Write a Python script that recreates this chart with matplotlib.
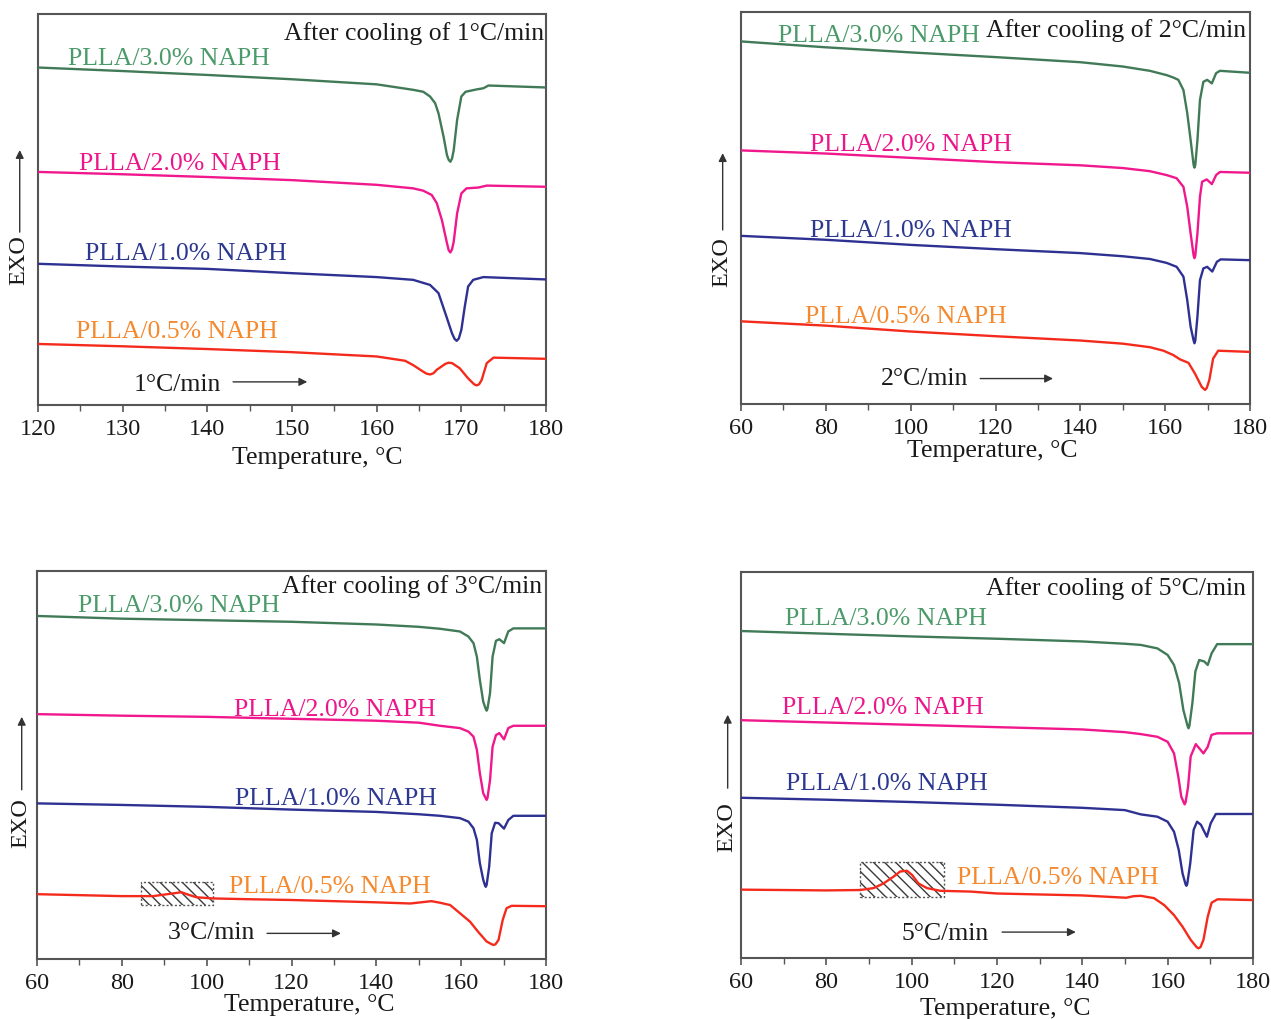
import matplotlib
matplotlib.use("Agg")
import matplotlib.pyplot as plt
from matplotlib.patches import Rectangle

plt.rcParams['font.family'] = ['Liberation Serif', 'DejaVu Serif']
plt.rcParams['hatch.linewidth'] = 1.0

# ---------------- data (signal in arbitrary units, 0-100 of panel height) ----------------
series_names = ["PLLA/3.0% NAPH", "PLLA/2.0% NAPH", "PLLA/1.0% NAPH", "PLLA/0.5% NAPH"]
rates = ["1°C/min", "2°C/min", "3°C/min", "5°C/min"]
xlims = [(120, 180), (60, 180), (60, 180), (60, 180)]
xticks = [[120, 130, 140, 150, 160, 170, 180],
          [60, 80, 100, 120, 140, 160, 180],
          [60, 80, 100, 120, 140, 160, 180],
          [60, 80, 100, 120, 140, 160, 180]]

# Panel 1: 1 °C/min
p1_green_T = [120, 130, 140, 150, 160, 164.3, 165.5, 166.3, 166.9, 167.3, 167.9, 168.3, 168.5, 168.7, 168.9, 169.1, 169.5, 170.0, 170.5, 171.8, 172.6, 173.2, 180]
p1_green_v = [86.3, 85.4, 84.4, 83.3, 82.0, 80.6, 80.1, 78.9, 77.2, 74.6, 68.6, 63.9, 62.7, 62.2, 63.0, 65.2, 72.9, 78.9, 80.1, 80.7, 81.0, 81.7, 81.2]
p1_pink_T = [120, 130, 140, 150, 160, 164.3, 165.5, 166.5, 167.1, 167.7, 168.3, 168.5, 168.7, 168.9, 169.1, 169.5, 170.0, 170.6, 172.0, 173.0, 180]
p1_pink_v = [59.6, 59.0, 58.3, 57.5, 56.3, 55.4, 54.8, 53.7, 51.6, 47.3, 41.4, 39.6, 39.0, 39.8, 41.8, 49.0, 54.1, 55.4, 55.6, 56.1, 55.8]
p1_blue_T = [120, 130, 140, 150, 160, 164.3, 166.3, 167.3, 168.1, 168.9, 169.2, 169.45, 169.7, 170.0, 170.4, 170.8, 171.4, 172.6, 180]
p1_blue_v = [36.1, 35.4, 34.8, 33.7, 32.7, 32.0, 30.7, 28.6, 23.5, 18.3, 16.9, 16.4, 17.0, 19.2, 25.1, 30.3, 32.0, 32.7, 32.1]
p1_red_T = [120, 130, 140, 150, 160, 163.35, 164.3, 165.5, 165.9, 166.3, 166.7, 167.1, 168.1, 168.5, 168.9, 169.8, 170.8, 171.5, 171.8, 172.1, 172.4, 173.0, 173.8, 180]
p1_red_v = [15.6, 15.0, 14.3, 13.5, 12.4, 11.3, 10.2, 8.5, 8.0, 7.8, 8.1, 9.0, 10.5, 10.8, 10.7, 9.4, 6.8, 5.3, 5.0, 5.3, 6.4, 10.7, 12.1, 11.8]

# Panel 2: 2 °C/min
p2_green_T = [60, 80, 100, 120, 140, 150, 156.4, 160.35, 161.9, 163.1, 164.3, 165.2, 166.0, 166.7, 166.9, 167.1, 167.6, 168.2, 169.0, 169.9, 171.0, 172.0, 172.9, 180]
p2_green_v = [92.5, 91.0, 89.7, 88.5, 87.2, 86.1, 85.0, 83.9, 83.3, 82.7, 80.1, 74.2, 67.3, 61.0, 60.3, 61.0, 67.3, 77.6, 82.2, 82.7, 81.8, 84.4, 85.0, 84.5]
p2_pink_T = [60, 80, 100, 120, 140, 150, 156.4, 160.35, 162.7, 164.3, 165.2, 166.0, 166.7, 166.9, 167.1, 167.6, 168.2, 168.7, 169.8, 171.0, 172.0, 172.9, 180]
p2_pink_v = [64.7, 63.9, 62.8, 61.7, 60.9, 60.2, 59.4, 58.4, 57.6, 55.4, 50.3, 43.5, 37.9, 37.2, 37.9, 43.5, 52.9, 56.7, 57.3, 56.1, 58.4, 59.2, 59.0]
p2_blue_T = [60, 80, 100, 120, 140, 150, 156.4, 160.35, 162.7, 164.3, 165.2, 166.0, 166.7, 166.9, 167.1, 167.6, 168.2, 169.0, 169.9, 171.1, 172.2, 173.1, 180]
p2_blue_v = [42.9, 41.9, 40.6, 39.5, 38.5, 37.7, 37.0, 36.0, 35.0, 32.5, 26.5, 19.7, 16.2, 15.5, 16.2, 22.3, 31.6, 34.6, 35.0, 33.8, 36.3, 36.9, 36.7]
p2_red_T = [60, 80, 100, 120, 140, 150, 156.4, 159.6, 161.9, 163.5, 165.5, 167.0, 168.6, 169.1, 169.4, 169.8, 170.4, 171.3, 172.5, 180]
p2_red_v = [21.1, 20.0, 18.5, 17.3, 16.2, 15.4, 14.5, 13.6, 12.5, 11.4, 10.5, 7.8, 4.4, 3.9, 3.6, 4.1, 6.1, 11.6, 13.6, 13.3]

# Panel 3: 3 °C/min
p3_green_T = [60, 80, 100, 120, 140, 150, 155.0, 159.7, 161.7, 162.9, 163.7, 164.4, 165.2, 165.8, 166.0, 166.2, 166.8, 167.4, 168.2, 169.0, 170.1, 171.1, 172.3, 180]
p3_green_v = [88.4, 87.7, 87.3, 86.9, 86.2, 85.6, 85.1, 84.4, 83.1, 81.4, 77.9, 71.9, 66.3, 64.4, 64.0, 64.5, 68.5, 77.9, 82.0, 82.4, 81.4, 84.4, 85.2, 85.2]
p3_pink_T = [60, 80, 100, 120, 140, 150, 155.0, 159.7, 161.7, 162.9, 163.7, 164.4, 165.2, 165.8, 166.0, 166.2, 166.8, 167.4, 168.2, 169.0, 170.1, 171.1, 172.3, 180]
p3_pink_v = [63.1, 62.7, 62.4, 61.9, 61.4, 60.9, 60.1, 59.5, 58.6, 57.3, 53.9, 47.9, 42.7, 41.4, 41.0, 41.5, 46.1, 54.7, 57.7, 58.2, 56.6, 59.5, 60.1, 60.1]
p3_blue_T = [60, 80, 100, 120, 140, 150, 155.0, 159.7, 161.7, 162.9, 163.7, 164.4, 165.2, 165.6, 165.8, 166.0, 166.6, 167.2, 168.0, 168.8, 170.1, 171.1, 172.3, 180]
p3_blue_v = [40.1, 39.7, 39.2, 38.5, 37.9, 37.3, 36.9, 36.3, 35.4, 33.7, 30.7, 24.7, 20.4, 19.0, 18.6, 19.1, 23.8, 32.4, 35.1, 35.0, 33.6, 35.8, 36.9, 36.9]
p3_red_T = [60, 80, 87.4, 91.4, 94.1, 95.3, 97.6, 101.6, 110, 120, 140, 148, 153, 155.0, 157.4, 159.7, 162.1, 164.0, 166.0, 167.2, 167.6, 168.1, 168.8, 169.8, 170.7, 171.9, 180]
p3_red_v = [16.7, 16.2, 16.2, 16.8, 17.2, 16.7, 15.9, 15.6, 15.4, 15.2, 14.6, 14.3, 14.9, 14.5, 13.9, 11.8, 9.6, 7.0, 4.5, 3.8, 3.6, 3.8, 4.9, 10.1, 13.1, 13.7, 13.6]

# Panel 4: 5 °C/min
p4_green_T = [60, 80, 100, 120, 140, 150, 153.7, 157.6, 160.0, 161.5, 162.7, 163.7, 164.7, 164.9, 165.1, 165.8, 166.5, 167.4, 168.6, 169.4, 170.3, 171.6, 180]
p4_green_v = [84.7, 84.0, 83.3, 82.7, 82.0, 81.4, 81.1, 80.2, 78.5, 75.9, 71.2, 64.2, 60.0, 59.5, 60.1, 66.0, 74.2, 77.2, 76.8, 75.9, 78.9, 81.3, 81.3]
p4_pink_T = [60, 80, 100, 120, 140, 150, 153.7, 157.6, 160.0, 161.5, 162.5, 163.2, 163.8, 164.0, 164.2, 164.8, 165.4, 166.6, 168.4, 169.4, 170.3, 171.6, 180]
p4_pink_v = [61.6, 61.0, 60.4, 59.8, 59.2, 58.5, 58.0, 57.3, 56.0, 53.0, 47.0, 41.8, 40.2, 39.8, 40.3, 44.4, 52.2, 55.4, 53.0, 54.7, 57.8, 58.2, 58.2]
p4_blue_T = [60, 80, 100, 120, 140, 150, 153.7, 157.6, 160.0, 161.5, 162.6, 163.5, 164.2, 164.4, 164.6, 165.3, 166.1, 166.9, 167.8, 169.2, 170.1, 171.3, 180]
p4_blue_v = [41.5, 41.0, 40.4, 39.7, 38.9, 38.3, 37.2, 36.6, 35.3, 32.7, 28.0, 21.9, 19.1, 18.7, 19.2, 24.5, 33.2, 35.3, 34.5, 31.4, 34.9, 37.3, 37.3]
p4_red_T = [60, 80, 87.9, 91.1, 93.4, 95.8, 97.3, 98.9, 100.1, 101.6, 103.6, 106.7, 113.8, 120, 140, 150.3, 152.0, 153.7, 156.8, 159.2, 161.5, 163.5, 165.4, 166.8, 167.2, 167.7, 168.4, 169.4, 170.3, 171.7, 180]
p4_red_v = [17.7, 17.5, 17.6, 18.1, 19.3, 21.1, 22.4, 22.6, 21.5, 19.3, 18.1, 17.4, 17.2, 16.7, 16.2, 15.6, 16.0, 16.1, 15.5, 13.7, 11.1, 8.1, 4.7, 2.8, 2.5, 2.8, 4.7, 10.7, 14.3, 15.2, 15.0]

# highlighted (hatched) regions: (T_start, T_end, v_low, v_high)
p3_box = (84.6, 101.5, 13.9, 19.9)
p4_box = (88.0, 107.7, 15.7, 24.8)

panels = [
    [(p1_green_T, p1_green_v), (p1_pink_T, p1_pink_v), (p1_blue_T, p1_blue_v), (p1_red_T, p1_red_v)],
    [(p2_green_T, p2_green_v), (p2_pink_T, p2_pink_v), (p2_blue_T, p2_blue_v), (p2_red_T, p2_red_v)],
    [(p3_green_T, p3_green_v), (p3_pink_T, p3_pink_v), (p3_blue_T, p3_blue_v), (p3_red_T, p3_red_v)],
    [(p4_green_T, p4_green_v), (p4_pink_T, p4_pink_v), (p4_blue_T, p4_blue_v), (p4_red_T, p4_red_v)],
]
boxes = [None, None, p3_box, p4_box]

# ---------------- styles / layout ----------------
line_colors = ["#417a57", "#f0188c", "#2e3192", "#f42b1c"]
label_colors = ["#4b9a69", "#ec168b", "#2c3890", "#f5892e"]

axes_rects = [
    [0.0299, 0.6026, 0.3997, 0.3837],
    [0.5830, 0.6035, 0.4005, 0.3847],
    [0.0291, 0.0589, 0.4005, 0.3808],
    [0.5830, 0.0599, 0.4028, 0.3788],
]
# series label positions (axes fraction, left / baseline)
label_pos = [
    [(0.059, 0.870), (0.081, 0.601), (0.0925, 0.371), (0.075, 0.171)],
    [(0.073, 0.923), (0.136, 0.646), (0.136, 0.427), (0.126, 0.207)],
    [(0.080, 0.895), (0.387, 0.626), (0.389, 0.397), (0.378, 0.171)],
    [(0.085, 0.863), (0.081, 0.631), (0.087, 0.435), (0.422, 0.192)],
]
title_pos = [(0.996, 0.9335), (0.992, 0.937), (0.992, 0.942), (0.986, 0.940)]
rate_pos = [(0.189, 0.036), (0.275, 0.048), (0.256, 0.051), (0.314, 0.047)]
rate_arrow = [(0.384, 0.530, 0.059), (0.470, 0.613, 0.065), (0.452, 0.597, 0.066), (0.510, 0.654, 0.067)]
exo = [(-0.037, 0.371, 0.442, 0.652), (-0.037, 0.362, 0.444, 0.640),
       (-0.031, 0.349, 0.436, 0.624), (-0.027, 0.340, 0.440, 0.630)]
xlabel_pos = [(0.549, -0.150), (0.493, -0.134), (0.534, -0.135), (0.516, -0.147)]
minor_step = [5, 10, 10, 10]

FS = 18.5
fig = plt.figure(figsize=(12.71, 10.19), dpi=100)
spine_col = "#555555"

for i in range(4):
    ax = fig.add_axes(axes_rects[i])
    for j, (T, v) in enumerate(panels[i]):
        ax.plot(T, v, color=line_colors[j], lw=1.7, solid_joinstyle='round', zorder=3)
        lx, ly = label_pos[i][j]
        ax.text(lx, ly, series_names[j], transform=ax.transAxes, color=label_colors[j],
                fontsize=FS, ha='left', va='baseline')
    if boxes[i] is not None:
        t0, t1, v0, v1 = boxes[i]
        ax.add_patch(Rectangle((t0, v0), t1 - t0, v1 - v0, facecolor='none',
                               edgecolor='#3a3a3a', lw=0, hatch='\\\\\\', zorder=2))
        ax.add_patch(Rectangle((t0, v0), t1 - t0, v1 - v0, facecolor='none',
                               edgecolor='#555555', lw=1.0, linestyle=(0, (1.5, 1.5)), zorder=2))
    ax.set_xlim(*xlims[i])
    ax.set_ylim(0, 100)
    ax.set_xticks(xticks[i])
    ax.set_xticks(list(range(xlims[i][0] + minor_step[i], xlims[i][1], minor_step[i] * 2)), minor=True)
    ax.set_yticks([])
    ax.tick_params(axis='x', which='major', direction='out', length=5, width=1.2,
                   color=spine_col, labelsize=17.5, pad=5, labelcolor='#1a1a1a')
    ax.tick_params(axis='x', which='minor', direction='out', length=4, width=1.0, color=spine_col)
    for s in ax.spines.values():
        s.set_color(spine_col)
        s.set_linewidth(1.5)
    tx, ty = title_pos[i]
    ax.text(tx, ty, "After cooling of " + rates[i], transform=ax.transAxes, fontsize=FS,
            ha='right', va='baseline', color='#1a1a1a')
    rx, ry = rate_pos[i]
    ax.text(rx, ry, rates[i], transform=ax.transAxes, fontsize=FS, ha='left', va='baseline',
            color='#1a1a1a')
    a0, a1, ay = rate_arrow[i]
    ax.annotate('', xy=(a1, ay), xytext=(a0, ay), xycoords='axes fraction',
                arrowprops=dict(arrowstyle='-|>', color='#333333', lw=1.0, mutation_scale=12,
                                shrinkA=0, shrinkB=0))
    ex, ey, e0, e1 = exo[i]
    ax.text(ex, ey, "EXO", transform=ax.transAxes, rotation=90, fontsize=17.5,
            ha='center', va='center', color='#1a1a1a')
    ax.annotate('', xy=(ex + 0.001, e1), xytext=(ex + 0.001, e0), xycoords='axes fraction',
                annotation_clip=False,
                arrowprops=dict(arrowstyle='-|>', color='#333333', lw=1.0, mutation_scale=12,
                                shrinkA=0, shrinkB=0))
    xx, xy_ = xlabel_pos[i]
    ax.text(xx, xy_, "Temperature, °C", transform=ax.transAxes, fontsize=FS,
            ha='center', va='baseline', color='#1a1a1a')

fig.savefig("out.png", dpi=100)
